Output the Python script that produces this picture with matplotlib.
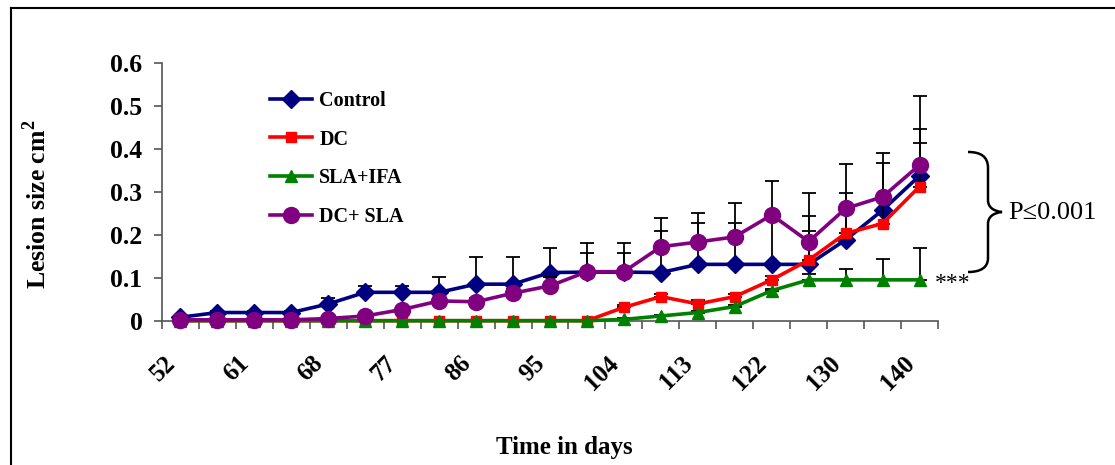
import numpy as np
import matplotlib
matplotlib.use("Agg")
import matplotlib.pyplot as plt
from matplotlib.path import Path
from matplotlib.patches import PathPatch
from matplotlib.lines import Line2D
from matplotlib.transforms import ScaledTranslation

plt.rcParams['font.family'] = ['Liberation Serif', 'DejaVu Serif']
plt.rcParams['mathtext.fontset'] = 'custom'
plt.rcParams['mathtext.rm'] = 'Liberation Serif'
plt.rcParams['mathtext.bf'] = 'Liberation Serif:bold'

# ---------------- data ----------------
day_labels = ['52', '61', '68', '77', '86', '95', '104', '113', '122', '130', '140']
n_points = 21

control = [0.008, 0.019, 0.019, 0.019, 0.039, 0.066, 0.066, 0.066, 0.085, 0.085, 0.112,
           0.113, 0.113, 0.112, 0.131, 0.131, 0.131, 0.131, 0.188, 0.257, 0.337]
control_err = [0.004, 0.003, 0.003, 0.003, 0.013, 0.015, 0.015, 0.035, 0.062, 0.062, 0.058,
               0.045, 0.045, 0.097, 0.097, 0.097, 0.114, 0.112, 0.110, 0.110, 0.108]

dc = [0, 0, 0, 0, 0, 0, 0, 0, 0, 0, 0, 0,
      0.031, 0.056, 0.039, 0.056, 0.095, 0.141, 0.203, 0.226, 0.312]
dc_err = [0, 0, 0, 0, 0, 0, 0, 0, 0, 0, 0, 0,
          0.005, 0.006, 0.010, 0.006, 0.010, 0.068, 0.050, 0.060, 0.102]

sla_ifa = [0, 0, 0, 0, 0, 0, 0, 0, 0, 0, 0, 0,
           0.003, 0.011, 0.019, 0.033, 0.070, 0.095, 0.095, 0.095, 0.095]
sla_ifa_err = [0, 0, 0, 0, 0, 0, 0, 0, 0, 0, 0, 0,
               0.003, 0.003, 0.003, 0.003, 0.004, 0.013, 0.025, 0.048, 0.075]

dc_sla = [0.002, 0.002, 0.002, 0.002, 0.005, 0.011, 0.026, 0.046, 0.044, 0.064, 0.081,
          0.114, 0.114, 0.172, 0.183, 0.195, 0.246, 0.184, 0.261, 0.288, 0.362]
dc_sla_err = [0.002, 0.002, 0.002, 0.002, 0.003, 0.004, 0.005, 0.006, 0.008, 0.010, 0.020,
              0.067, 0.067, 0.068, 0.068, 0.079, 0.079, 0.114, 0.103, 0.103, 0.161]

series = [
    ('Control', control, control_err, '#000080', 'D', 9),
    ('DC', dc, dc_err, '#FF0000', 's', 7),
    ('SLA+IFA', sla_ifa, sla_ifa_err, '#008000', '^', 8),
    ('DC+ SLA', dc_sla, dc_sla_err, '#800080', 'o', 11.5),
]

W, H = 1115, 465
fig = plt.figure(figsize=(W / 100, H / 100), dpi=100)


def fx(px):
    return px / W


def fy(py):
    return 1 - py / H


ax = fig.add_axes([fx(162), fy(320.7), fx(938) - fx(162), fy(62.7) - fy(320.7)])

x = np.arange(n_points)
for k, (name, vals, err, col, mk, ms) in enumerate(series):
    z = 3 + k
    vals = np.array(vals)
    err = np.array(err)
    ax.errorbar(x, vals, yerr=[np.zeros_like(err), err], fmt='none', ecolor='black',
                elinewidth=1.3, capsize=5, capthick=1.3, zorder=z)
    ax.plot(x, vals, color=col, lw=2.6, marker=mk, ms=ms, mec=col, mfc=col,
            label=name, zorder=z + 0.5, clip_on=False)

ax.set_xlim(-0.5, n_points - 0.5)
ax.set_ylim(0, 0.6)

for s in ['top', 'right']:
    ax.spines[s].set_visible(False)
for s in ['left', 'bottom']:
    ax.spines[s].set_color('#555555')
    ax.spines[s].set_linewidth(1.2)

ax.set_yticks(np.arange(0, 0.61, 0.1))
ax.set_yticklabels(['0'] + [f'{v:.1f}' for v in np.arange(0.1, 0.61, 0.1)],
                   fontsize=18.5, fontweight='bold')
ax.tick_params(axis='y', direction='out', length=6, width=1.2, color='#555555', pad=8)

ax.set_xticks(np.arange(-0.5, n_points, 1.0), minor=True)
ax.set_xticks(np.arange(0, n_points, 2))
ax.set_xticklabels(day_labels, fontsize=18, fontweight='bold', rotation=45,
                   ha='right', va='center', rotation_mode='anchor')
ax.tick_params(axis='x', which='major', length=0, pad=28)
ax.tick_params(axis='x', which='minor', direction='out', length=5.5, width=1.2, color='#555555')
offset = ScaledTranslation(-9 / 100, 0, fig.dpi_scale_trans)
for lab in ax.get_xticklabels():
    lab.set_transform(lab.get_transform() + offset)

fig.text(fx(564), fy(447), 'Time in days', fontsize=18, fontweight='bold',
         ha='center', va='center')
fig.text(fx(37), fy(204), r'Lesion size cm$^{\mathbf{2}}$', fontsize=18.5, fontweight='bold',
         rotation=90, ha='center', va='center')

leg = ax.legend(loc='upper left', bbox_to_anchor=(fx(270), fy(91)), bbox_transform=fig.transFigure,
                frameon=False, borderpad=0, borderaxespad=0, handlelength=2.1,
                handletextpad=0.35, labelspacing=0.92, prop={'weight': 'bold', 'size': 14.5})

# brace and significance annotation
verts = [(968, 152), (980, 152), (988, 156), (988, 168),
         (988, 200),
         (988, 207), (993, 211), (1002, 212),
         (993, 213), (988, 217), (988, 224),
         (988, 258),
         (988, 268), (980, 272), (968, 272)]
codes = [Path.MOVETO, Path.CURVE4, Path.CURVE4, Path.CURVE4,
         Path.LINETO,
         Path.CURVE4, Path.CURVE4, Path.CURVE4,
         Path.CURVE4, Path.CURVE4, Path.CURVE4,
         Path.LINETO,
         Path.CURVE4, Path.CURVE4, Path.CURVE4]
brace = Path([(fx(a), fy(b)) for a, b in verts], codes)
fig.patches.append(PathPatch(brace, transform=fig.transFigure, fill=False, lw=1.8, color='black'))
fig.text(fx(1008), fy(213), 'P\u22640.001', fontsize=19, ha='left', va='center')
fig.text(fx(935), fy(283), '***', fontsize=17, ha='left', va='center')

# outer frame
fig.add_artist(Line2D([fx(11), 1], [fy(8.5), fy(8.5)], transform=fig.transFigure, color='black', lw=1.5))
fig.add_artist(Line2D([fx(11), fx(11)], [fy(8.5), 0], transform=fig.transFigure, color='black', lw=1.5))

fig.savefig('out.png', dpi=100)
